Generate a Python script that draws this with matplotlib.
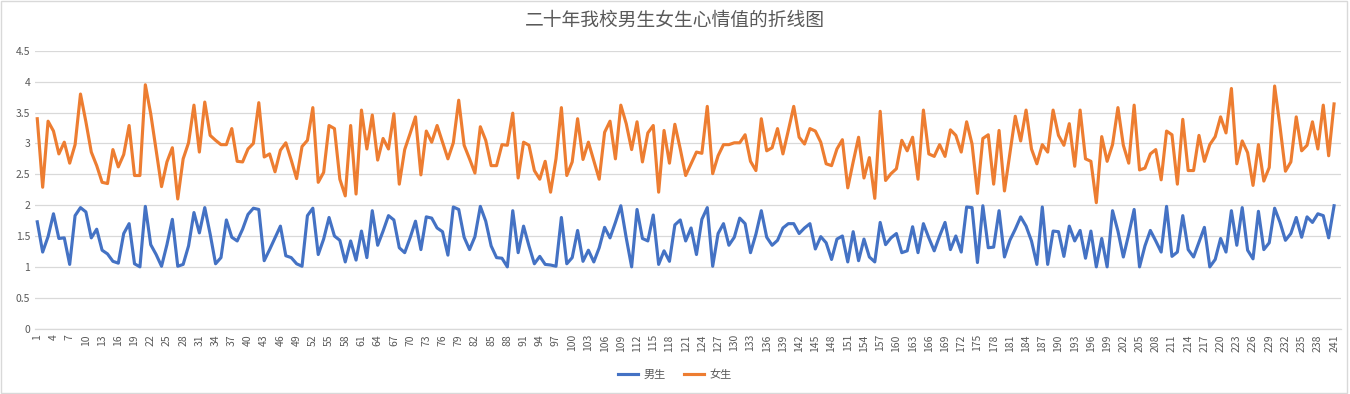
import matplotlib
matplotlib.use("Agg")
import matplotlib.pyplot as plt
from matplotlib.patches import Rectangle
import numpy as np

plt.rcParams['font.family'] = ['Noto Sans CJK SC', 'DejaVu Sans']

TITLE = "二十年我校男生女生心情值的折线图"
SERIES_NAMES = ["男生", "女生"]

# values, index 1..241
boys = [
    1.73, 1.24, 1.49, 1.86, 1.46, 1.47, 1.04, 1.83, 1.96, 1.89, 1.47, 1.61, 1.27, 1.21, 1.09, 1.06, 1.54, 1.70, 1.05, 1.00, 1.98,
    1.36, 1.20, 1.01, 1.36, 1.77, 1.01, 1.04, 1.34, 1.88, 1.55, 1.96, 1.53, 1.05, 1.15, 1.76, 1.48, 1.42, 1.61, 1.85, 1.95,
    1.93, 1.10, 1.28, 1.47, 1.66, 1.18, 1.15, 1.05, 1.01, 1.83, 1.95, 1.20, 1.45, 1.80, 1.50, 1.43, 1.08, 1.42, 1.11, 1.58,
    1.15, 1.91, 1.35, 1.58, 1.83, 1.76, 1.31, 1.23, 1.47, 1.74, 1.28, 1.81, 1.79, 1.63, 1.57, 1.19, 1.97, 1.93, 1.48, 1.28, 1.49,
    1.98, 1.74, 1.34, 1.15, 1.14, 1.00, 1.91, 1.23, 1.66, 1.34, 1.05, 1.17, 1.04, 1.03, 1.01, 1.80, 1.05, 1.15, 1.59, 1.09,
    1.27, 1.08, 1.31, 1.64, 1.47, 1.72, 1.99, 1.47, 1.00, 1.93, 1.46, 1.42, 1.84, 1.04, 1.26, 1.09, 1.68, 1.76, 1.42, 1.63, 1.20,
    1.77, 1.96, 1.01, 1.54, 1.70, 1.35, 1.48, 1.79, 1.70, 1.23, 1.53, 1.91, 1.48, 1.35, 1.43, 1.63, 1.70, 1.70, 1.54, 1.63,
    1.70, 1.29, 1.49, 1.39, 1.12, 1.45, 1.50, 1.08, 1.57, 1.10, 1.45, 1.16, 1.08, 1.72, 1.36, 1.47, 1.54, 1.23, 1.26, 1.65, 1.23,
    1.70, 1.47, 1.26, 1.50, 1.72, 1.28, 1.50, 1.24, 1.97, 1.96, 1.07, 1.99, 1.31, 1.32, 1.91, 1.16, 1.43, 1.61, 1.81, 1.66,
    1.42, 1.04, 1.97, 1.04, 1.58, 1.57, 1.17, 1.66, 1.42, 1.59, 1.14, 1.58, 1.00, 1.46, 1.00, 1.91, 1.58, 1.16, 1.53, 1.93,
    1.00, 1.34, 1.59, 1.42, 1.24, 1.98, 1.17, 1.24, 1.83, 1.28, 1.16, 1.40, 1.64, 1.00, 1.12, 1.46, 1.24, 1.91, 1.35, 1.96, 1.27,
    1.13, 1.90, 1.28, 1.39, 1.95, 1.72, 1.43, 1.54, 1.80, 1.48, 1.81, 1.72, 1.86, 1.83, 1.47, 1.99,
]

girls = [
    3.40, 2.29, 3.36, 3.20, 2.83, 3.02, 2.68, 2.98, 3.80, 3.35, 2.86, 2.64, 2.37, 2.35, 2.90, 2.62, 2.82, 3.29, 2.48, 2.48, 3.95,
    3.48, 2.89, 2.30, 2.70, 2.93, 2.10, 2.75, 3.01, 3.62, 2.86, 3.67, 3.13, 3.05, 2.98, 2.98, 3.24, 2.71, 2.70, 2.91, 3.00,
    3.66, 2.78, 2.83, 2.54, 2.89, 3.01, 2.73, 2.43, 2.95, 3.05, 3.58, 2.37, 2.53, 3.29, 3.24, 2.42, 2.15, 3.29, 2.18, 3.54,
    2.91, 3.46, 2.73, 3.08, 2.91, 3.48, 2.34, 2.90, 3.16, 3.43, 2.49, 3.20, 3.02, 3.29, 3.02, 2.75, 3.01, 3.70, 2.97, 2.75, 2.52,
    3.27, 3.05, 2.64, 2.64, 2.98, 2.97, 3.49, 2.44, 3.02, 2.97, 2.56, 2.42, 2.71, 2.21, 2.75, 3.58, 2.48, 2.70, 3.40, 2.74,
    3.02, 2.72, 2.42, 3.18, 3.36, 2.75, 3.62, 3.32, 2.90, 3.35, 2.70, 3.17, 3.29, 2.21, 3.21, 2.68, 3.31, 2.91, 2.48, 2.67, 2.86,
    2.84, 3.60, 2.51, 2.80, 2.98, 2.98, 3.01, 3.01, 3.14, 2.71, 2.56, 3.40, 2.88, 2.93, 3.24, 2.83, 3.21, 3.60, 3.10, 2.99,
    3.24, 3.20, 3.02, 2.67, 2.64, 2.91, 3.06, 2.28, 2.70, 3.10, 2.44, 2.77, 2.11, 3.52, 2.40, 2.51, 2.59, 3.05, 2.88, 3.10, 2.42,
    3.54, 2.83, 2.79, 2.98, 2.79, 3.22, 3.13, 2.86, 3.35, 2.99, 2.19, 3.08, 3.14, 2.34, 3.21, 2.23, 2.83, 3.44, 3.04, 3.54,
    2.91, 2.67, 2.98, 2.86, 3.54, 3.13, 2.97, 3.32, 2.63, 3.54, 2.75, 2.71, 2.04, 3.11, 2.71, 2.98, 3.58, 2.97, 2.68, 3.62,
    2.57, 2.60, 2.83, 2.90, 2.41, 3.20, 3.14, 2.34, 3.39, 2.56, 2.56, 3.13, 2.71, 2.98, 3.11, 3.43, 3.17, 3.89, 2.67, 3.04, 2.85,
    2.32, 2.98, 2.39, 2.61, 3.93, 3.27, 2.55, 2.70, 3.43, 2.88, 2.97, 3.35, 2.91, 3.62, 2.80, 3.64,
]

x = np.arange(1, len(boys) + 1)
xticks = list(range(1, len(boys) + 1, 3))
yticks = [0, 0.5, 1, 1.5, 2, 2.5, 3, 3.5, 4, 4.5]

TEXT = '#595959'
GRID = '#D9D9D9'

fig = plt.figure(figsize=(13.5, 3.94), dpi=100)
ax = fig.add_axes([0.026, 0.166, 0.967, 0.705])

ax.plot(x, boys, color='#4472C4', lw=2.25, label=SERIES_NAMES[0], solid_joinstyle='round')
ax.plot(x, girls, color='#ED7D31', lw=2.25, label=SERIES_NAMES[1], solid_joinstyle='round')

ax.set_xlim(0.6, len(boys) + 1.2)
ax.set_ylim(0, 4.5)
ax.set_yticks(yticks)
ax.set_yticklabels([('%g' % v) for v in yticks])
ax.set_xticks(xticks)
ax.set_xticklabels([str(v) for v in xticks], rotation=90)
ax.tick_params(axis='both', length=0, labelsize=7.5, colors=TEXT)
ax.tick_params(axis='x', pad=4)
ax.yaxis.grid(True, color=GRID, lw=0.9)
ax.set_axisbelow(True)
for s in ['top', 'right', 'left']:
    ax.spines[s].set_visible(False)
ax.spines['bottom'].set_color(GRID)
ax.spines['bottom'].set_linewidth(0.9)

fig.suptitle(TITLE, x=0.5, y=0.975, fontsize=13.5, color=TEXT)

fig.legend(loc='lower center', bbox_to_anchor=(0.5, 0.01), ncol=2, frameon=False,
           fontsize=8, labelcolor=TEXT, handlelength=1.8, handletextpad=0.5,
           columnspacing=1.6)

fig.patches.append(Rectangle((0.001, 0.002), 0.997, 0.995, transform=fig.transFigure,
                             fill=False, edgecolor=GRID, lw=1))

fig.savefig('out.png', dpi=100)
